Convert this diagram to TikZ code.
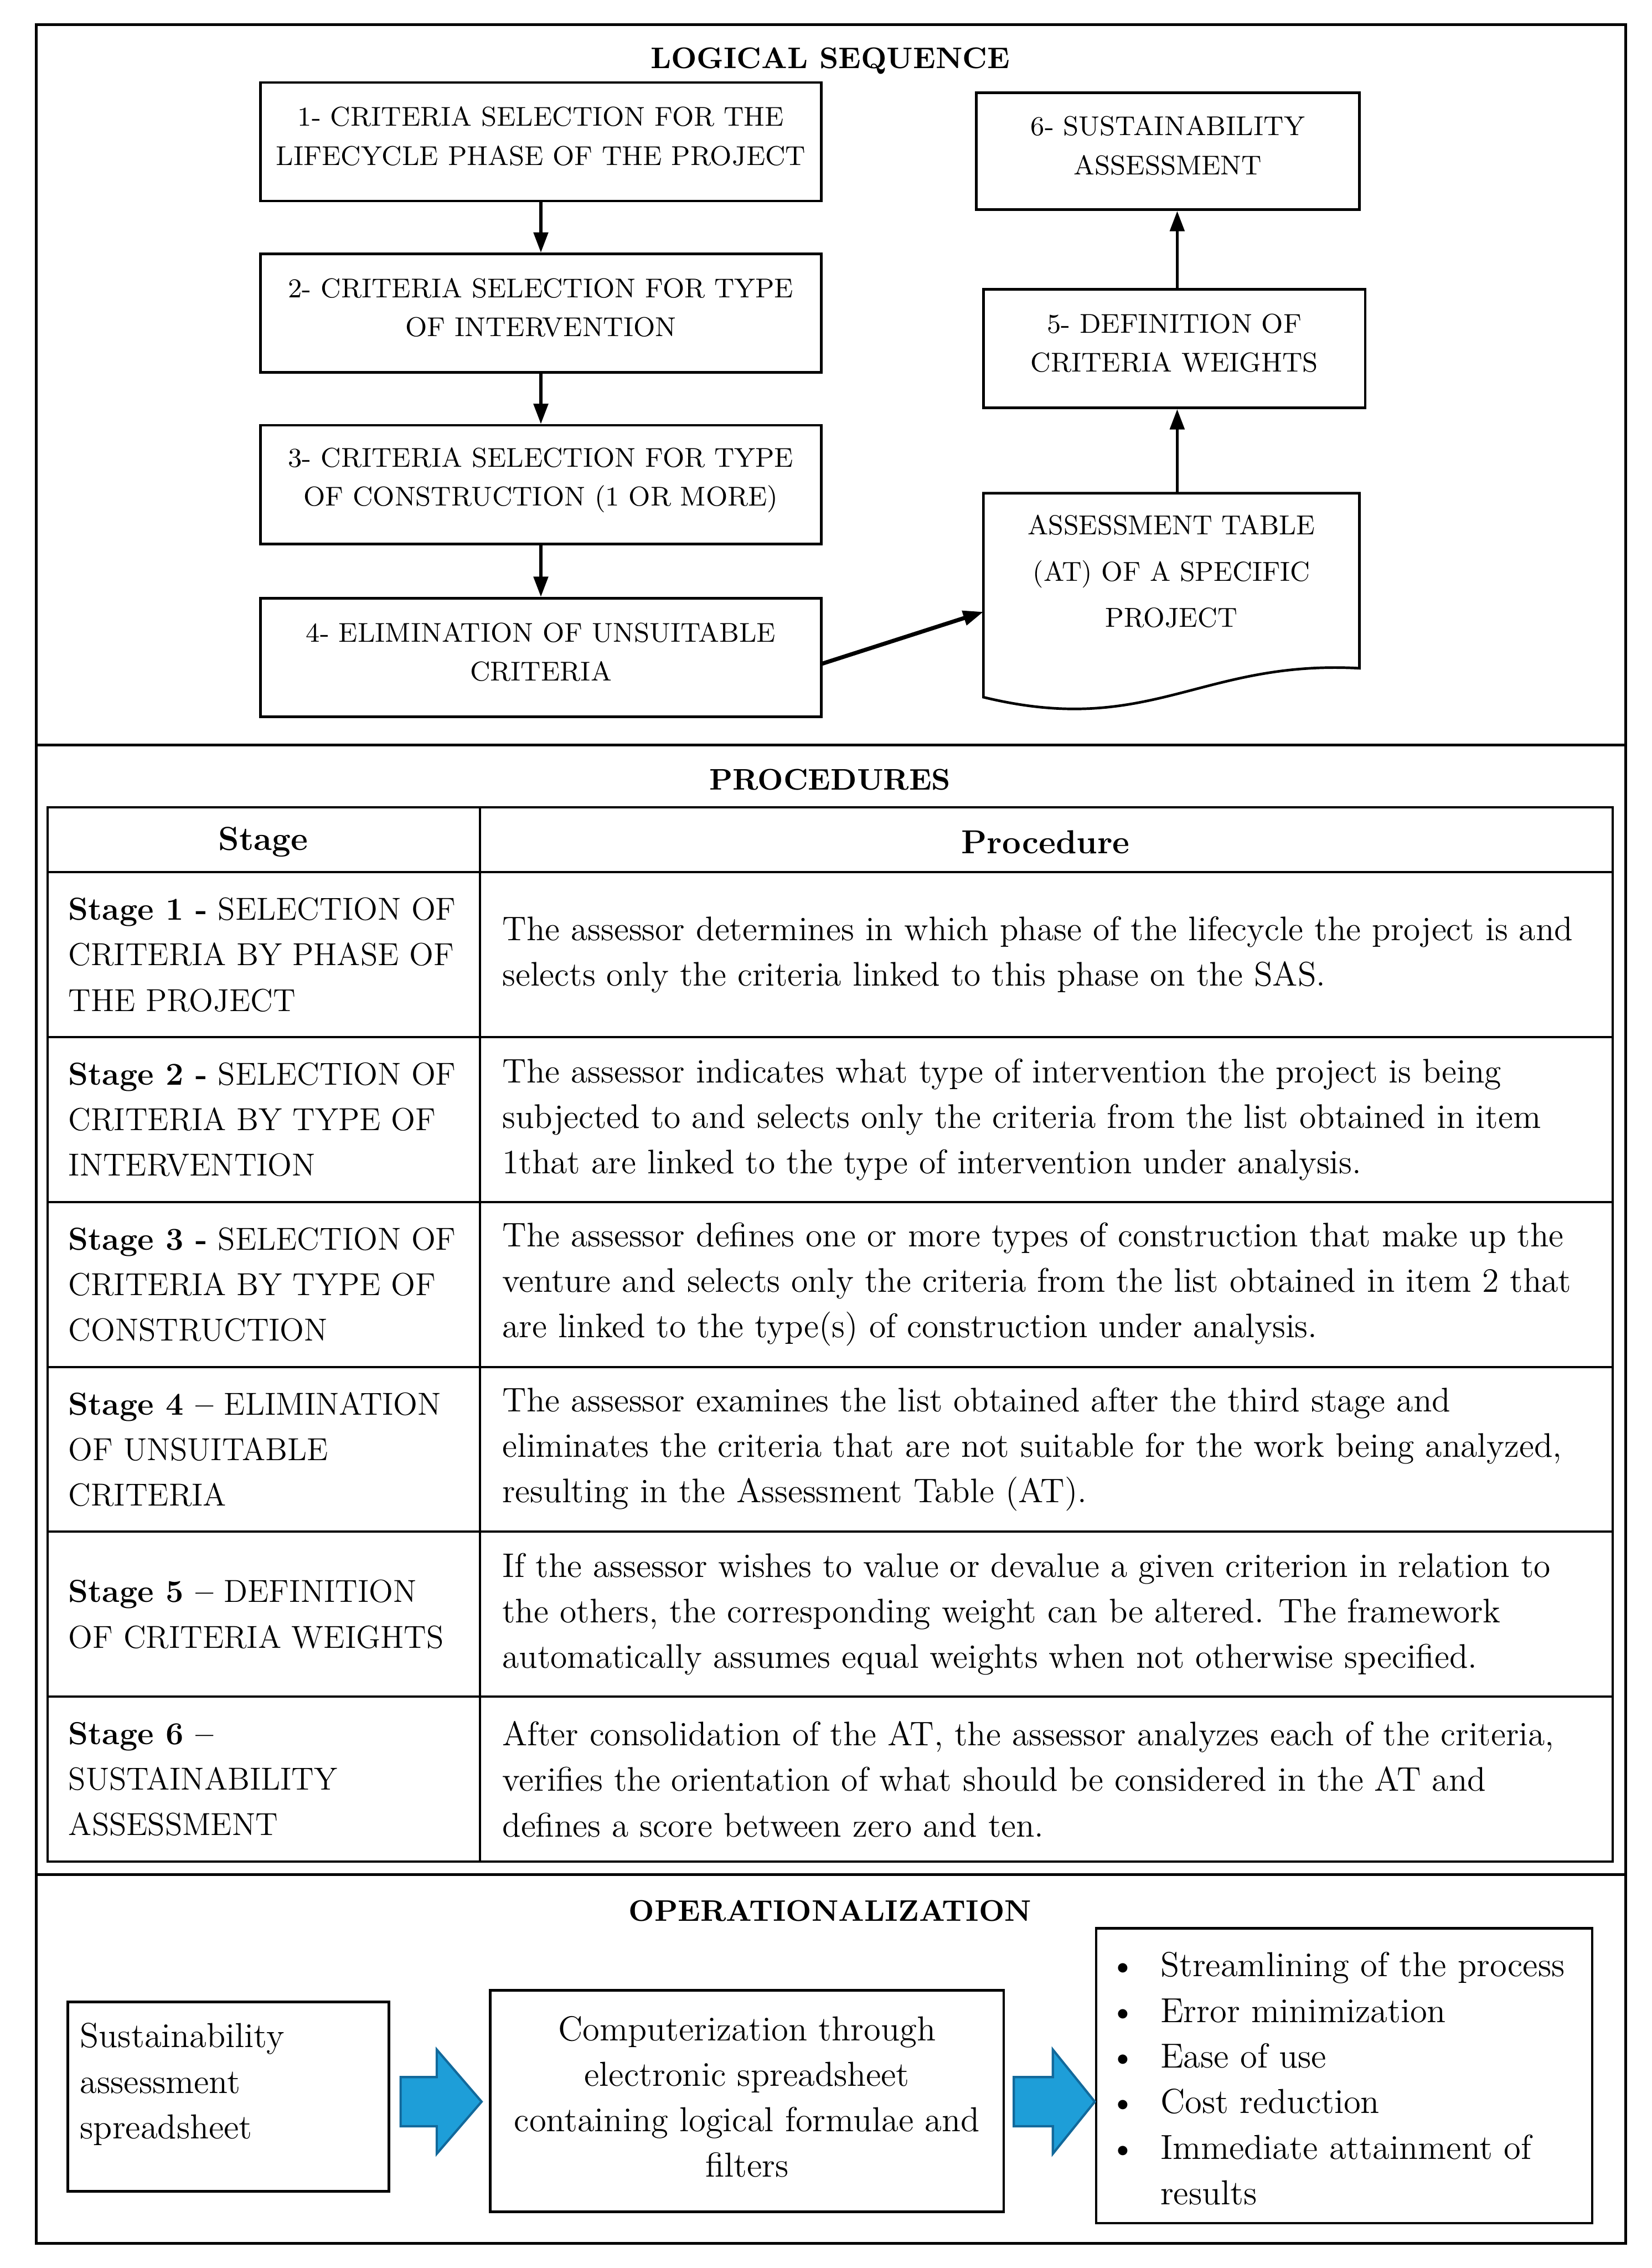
\documentclass[tikz,border=0pt]{standalone}
\usetikzlibrary{arrows.meta}
\definecolor{arrblue}{RGB}{30,158,216}
\definecolor{arrdark}{RGB}{18,105,155}
\newcommand{\lowpad}{\rule[-4pt]{0pt}{4pt}}
\tikzset{
  frame/.style={draw, line width=0.9pt},
  flowbox/.style={draw, line width=0.9pt, align=center, inner sep=0pt,
    font=\fontsize{9.4}{13.5}\selectfont},
  flowarr/.style={line width=1pt, -{Triangle[length=7pt,width=5pt]}},
  sectitle/.style={font=\fontsize{10.3}{12}\selectfont\bfseries},
  tline/.style={line width=0.75pt},
  celltext/.style={anchor=west, align=left, inner sep=0pt,
    font=\fontsize{11}{15.75}\selectfont},
  proctext/.style={anchor=west, align=left, inner sep=0pt,
    font=\fontsize{11.8}{15.75}\selectfont},
  optext/.style={inner sep=0pt, font=\fontsize{11.5}{15.75}\selectfont},
  opbody/.style={anchor=west, align=left, inner sep=0pt,
    font=\fontsize{12}{15.75}\selectfont},
  bluearrow/.style={fill=arrblue, draw=arrdark, line width=0.8pt, line join=miter}
}
\begin{document}
\begin{tikzpicture}[x=0.5pt,y=-0.5pt]
\useasboundingbox (0,0) rectangle (1142,1568);

% ---------------- Section frames
\draw[frame] (25,17) rectangle (1124,515);
\draw[frame] (25,515) rectangle (1124,1296);
\draw[frame] (25,1296) rectangle (1124,1551);

% ---------------- LOGICAL SEQUENCE
\node[sectitle] (t1) at (574,42) {LOGICAL SEQUENCE};

\node[flowbox, minimum width=194pt, minimum height=41pt] (b1) at (374,98)
  {1- CRITERIA SELECTION FOR THE\\LIFECYCLE PHASE OF THE PROJECT\lowpad};
\node[flowbox, minimum width=194pt, minimum height=41pt] (b2) at (374,216.5)
  {2- CRITERIA SELECTION FOR TYPE\\OF INTERVENTION\lowpad};
\node[flowbox, minimum width=194pt, minimum height=41pt] (b3) at (374,335)
  {3- CRITERIA SELECTION FOR TYPE\\OF CONSTRUCTION (1 OR MORE)\rule[-5.5pt]{0pt}{5.5pt}};
\node[flowbox, minimum width=194pt, minimum height=41pt] (b4) at (374,454.5)
  {4- ELIMINATION OF UNSUITABLE\\CRITERIA\lowpad};
\node[flowbox, minimum width=132.5pt, minimum height=40.5pt] (b6) at (807.5,104.5)
  {6- SUSTAINABILITY\\ASSESSMENT\lowpad};
\node[flowbox, minimum width=132pt, minimum height=41pt] (b5) at (812,241)
  {5- DEFINITION OF\\CRITERIA WEIGHTS\lowpad};

% document shape (assessment table)
\draw[line width=0.9pt, line join=miter] (680,341) -- (940,341) -- (940,462)
  .. controls (830,456) and (795,510) .. (680,482) -- cycle;
\node[flowbox, draw=none, font=\fontsize{9.5}{16}\selectfont] (atbl) at (810,395)
  {ASSESSMENT TABLE\\(AT) OF A SPECIFIC\\PROJECT};
\coordinate (attop) at (814,341);
\coordinate (atin) at (680,423);
\coordinate (b4out) at (568,459);

\draw[flowarr] (b1.south) -- (b2.north);
\draw[flowarr] (b2.south) -- (b3.north);
\draw[flowarr] (b3.south) -- (b4.north);
\draw[flowarr, line width=1.4pt] (b4out) -- (atin);
\draw[flowarr] (attop) -- (attop |- b5.south);
\draw[flowarr] (attop |- b5.north) -- (attop |- b6.south);

% ---------------- PROCEDURES
\node[sectitle] (t2) at (574,539) {PROCEDURES};

\draw[tline] (33,558) rectangle (1115,1287);
\draw[tline] (332,558) -- (332,1287);
\foreach \yy in {603,717,831,945,1059,1173} {
  \draw[tline] (33,\yy) -- (1115,\yy);
}
\node[optext, font=\fontsize{11.5}{15.75}\selectfont\bfseries] (hstage) at (182,582) {Stage};
\node[optext, font=\fontsize{11.5}{15.75}\selectfont\bfseries] (hproc) at (723,582) {Procedure};

\node[celltext] (s1) at (47,660) {\textbf{Stage 1 -} SELECTION OF\\CRITERIA BY PHASE OF\\THE PROJECT};
\node[proctext] (p1) at (347,660) {The assessor determines in which phase of the lifecycle the project is and\\selects only the criteria linked to this phase on the SAS.};

\node[celltext] (s2) at (47,774) {\textbf{Stage 2 -} SELECTION OF\\CRITERIA BY TYPE OF\\INTERVENTION};
\node[proctext] (p2) at (347,774) {The assessor indicates what type of intervention the project is being\\subjected to and selects only the criteria from the list obtained in item\\1that are linked to the type of intervention under analysis.};

\node[celltext] (s3) at (47,888) {\textbf{Stage 3 -} SELECTION OF\\CRITERIA BY TYPE OF\\CONSTRUCTION};
\node[proctext] (p3) at (347,888) {The assessor defines one or more types of construction that make up the\\venture and selects only the criteria from the list obtained in item 2 that\\are linked to the type(s) of construction under analysis.};

\node[celltext] (s4) at (47,1002) {\textbf{Stage 4 --} ELIMINATION\\OF UNSUITABLE\\CRITERIA};
\node[proctext] (p4) at (347,1002) {The assessor examines the list obtained after the third stage and\\eliminates the criteria that are not suitable for the work being analyzed,\\resulting in the Assessment Table (AT).};

\node[celltext] (s5) at (47,1116) {\textbf{Stage 5 --} DEFINITION\\OF CRITERIA WEIGHTS};
\node[proctext] (p5) at (347,1116) {If the assessor wishes to value or devalue a given criterion in relation to\\the others, the corresponding weight can be altered. The framework\\automatically assumes equal weights when not otherwise specified.};

\node[celltext] (s6) at (47,1230) {\textbf{Stage 6 --}\\SUSTAINABILITY\\ASSESSMENT};
\node[proctext] (p6) at (347,1230) {After consolidation of the AT, the assessor analyzes each of the criteria,\\verifies the orientation of what should be considered in the AT and\\defines a score between zero and ten.};

% ---------------- OPERATIONALIZATION
\node[sectitle] (t3) at (574,1321) {OPERATIONALIZATION};

\node[draw, line width=0.9pt, minimum width=111pt, minimum height=65.5pt] (oa) at (158,1449.5) {};
\node[opbody] (oatext) at (55,1441) {Sustainability\\assessment\\spreadsheet};

\node[draw, line width=0.9pt, minimum width=177.5pt, minimum height=76.5pt, align=center,
  inner sep=0pt, font=\fontsize{12}{15.75}\selectfont] (ob) at (516.5,1452.5)
  {Computerization through\\electronic spreadsheet\\containing logical formulae and\\filters\rule[-3pt]{0pt}{3pt}};

\node[draw, line width=0.9pt, minimum width=171.5pt, minimum height=102pt] (oc) at (929.5,1435) {};
\node[opbody] (octext) at (767,1437)
  {\makebox[17.5pt][l]{\textbullet}Streamlining of the process\\
   \makebox[17.5pt][l]{\textbullet}Error minimization\\
   \makebox[17.5pt][l]{\textbullet}Ease of use\\
   \makebox[17.5pt][l]{\textbullet}Cost reduction\\
   \makebox[17.5pt][l]{\textbullet}Immediate attainment of\\
   \makebox[17.5pt][l]{}results};

\draw[bluearrow] (277,1436) -- (302,1436) -- (302,1417) -- (333,1453) -- (302,1489)
  -- (302,1470) -- (277,1470) -- cycle;
\draw[bluearrow] (701,1436) -- (728,1436) -- (728,1417) -- (757,1453) -- (728,1489)
  -- (728,1470) -- (701,1470) -- cycle;
\end{tikzpicture}
\end{document}
